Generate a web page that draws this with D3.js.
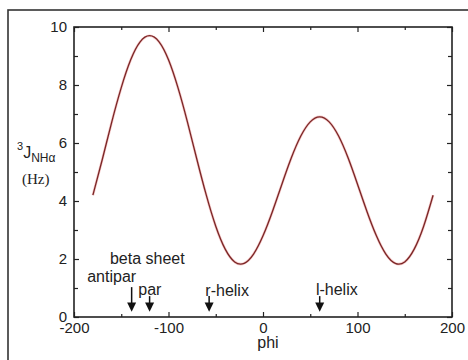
<!DOCTYPE html>
<html><head><meta charset="utf-8">
<script src="https://cdn.jsdelivr.net/npm/d3@7"></script>
<style>
html,body{margin:0;padding:0;background:#fff;}
svg{display:block;font-family:"Liberation Sans",Arial,Helvetica,sans-serif;}
</style></head>
<body><svg id="c" width="468" height="360"></svg>
<script>
// phi (degrees) and coupling constant 3J(NH-Halpha) in Hz
const phi = [-180,-170,-160,-150,-140,-130,-120,-110,-100,-90,-80,-70,-60,-50,-40,-30,-20,-10,0,10,20,30,40,50,60,70,80,90,100,110,120,130,140,150,160,170,180];
const jval = [4.20,5.44,6.73,7.91,8.87,9.49,9.70,9.49,8.87,7.91,6.73,5.44,4.20,3.13,2.34,1.90,1.85,2.17,2.80,3.64,4.58,5.49,6.24,6.73,6.90,6.73,6.24,5.49,4.58,3.64,2.80,2.17,1.85,1.90,2.34,3.13,4.20];
const xTicks = [-200,-100,0,100,200];
const xMinor = [-150,-50,50,150];
const yTicks = [0,2,4,6,8,10];
const yMinor = [1,3,5,7,9];
// arrows: phi position and top of the shaft (in Hz units)
const arrowPhi = [-139,-120,-57,60];
const arrowTop = [1.03,0.72,0.72,0.72];
const labels = [
  {text:"beta sheet", phi:-162, j:1.83},
  {text:"antipar", phi:-186, j:1.2},
  {text:"par", phi:-132, j:0.75},
  {text:"r-helix", phi:-61, j:0.72},
  {text:"l-helix", phi:56, j:0.76}
];

const svg = d3.select("#c");
const L=74, R=452, T=27, B=317;
const x = d3.scaleLinear().domain([-200,200]).range([L,R]);
const y = d3.scaleLinear().domain([0,10]).range([B,T]);

// outer frame
svg.append("rect").attr("x",8).attr("y",10).attr("width",480).attr("height",380)
  .attr("fill","none").attr("stroke","#333").attr("stroke-width",1.6);

function styleAxis(g){
  g.select(".domain").remove();
  g.selectAll("line").attr("stroke","#222").attr("stroke-width",1.2);
  g.selectAll("text").attr("fill","#222").style("font-size","15px")
   .style("font-family","'Liberation Sans',Arial,sans-serif");
}
const fmt = d => String(d);
// bottom axis
svg.append("g").attr("transform",`translate(0,${B})`)
  .call(d3.axisBottom(x).tickValues(xTicks).tickSizeInner(-5).tickSizeOuter(0).tickPadding(5).tickFormat(fmt))
  .call(styleAxis);
svg.append("g").attr("transform",`translate(0,${B})`)
  .call(d3.axisBottom(x).tickValues(xMinor).tickSizeInner(-3).tickSizeOuter(0).tickFormat(""))
  .call(styleAxis);
// top axis
svg.append("g").attr("transform",`translate(0,${T})`)
  .call(d3.axisTop(x).tickValues(xTicks).tickSizeInner(-5).tickSizeOuter(0).tickFormat(""))
  .call(styleAxis);
svg.append("g").attr("transform",`translate(0,${T})`)
  .call(d3.axisTop(x).tickValues(xMinor).tickSizeInner(-3).tickSizeOuter(0).tickFormat(""))
  .call(styleAxis);
// left axis
svg.append("g").attr("transform",`translate(${L},0)`)
  .call(d3.axisLeft(y).tickValues(yTicks).tickSizeInner(-5).tickSizeOuter(0).tickPadding(7).tickFormat(fmt))
  .call(styleAxis);
svg.append("g").attr("transform",`translate(${L},0)`)
  .call(d3.axisLeft(y).tickValues(yMinor).tickSizeInner(-4).tickSizeOuter(0).tickFormat(""))
  .call(styleAxis);
// right axis
svg.append("g").attr("transform",`translate(${R},0)`)
  .call(d3.axisRight(y).tickValues(yTicks).tickSizeInner(-5).tickSizeOuter(0).tickFormat(""))
  .call(styleAxis);
svg.append("g").attr("transform",`translate(${R},0)`)
  .call(d3.axisRight(y).tickValues(yMinor).tickSizeInner(-4).tickSizeOuter(0).tickFormat(""))
  .call(styleAxis);

// plot box
svg.append("rect").attr("x",L).attr("y",T).attr("width",R-L).attr("height",B-T)
  .attr("fill","none").attr("stroke","#222").attr("stroke-width",1.6);

// curve
const data = phi.map((p,i)=>({p, j:jval[i]}));
const line = d3.line().x(d=>x(d.p)).y(d=>y(d.j)).curve(d3.curveNatural);
svg.append("path").datum(data).attr("d", line)
  .attr("fill","none").attr("stroke","#ec9a9a").attr("stroke-width",2.6).attr("opacity",0.55);
svg.append("path").datum(data).attr("d", line)
  .attr("fill","none").attr("stroke","#7a2626").attr("stroke-width",1.3);

// arrows
arrowPhi.forEach((p,i)=>{
  const cx = x(p);
  svg.append("line").attr("x1",cx).attr("x2",cx).attr("y1",y(arrowTop[i])).attr("y2",y(0.4))
    .attr("stroke","#111").attr("stroke-width",1.5);
  svg.append("path")
    .attr("d",`M${cx-4.5},${y(0.5)} L${cx+4.5},${y(0.5)} L${cx},${y(0.18)} Z`)
    .attr("fill","#111");
});

// annotation labels
labels.forEach(l=>{
  svg.append("text").attr("x",x(l.phi)).attr("y",y(l.j))
    .attr("fill","#222").style("font-size","16px").text(l.text);
});

// axis titles
svg.append("text").attr("x",268).attr("y",348).attr("text-anchor","middle")
  .attr("fill","#222").style("font-size","16px").text("phi");
const yl = svg.append("text").attr("x",17).attr("y",158).attr("fill","#222").style("font-size","16px");
yl.append("tspan").attr("dy",-8).style("font-size","11px").text("3");
yl.append("tspan").attr("dy",8).text("J");
yl.append("tspan").attr("dy",4).style("font-size","12px").text("NHα");
svg.append("text").attr("x",22).attr("y",184).attr("fill","#222")
  .style("font-family","'Liberation Serif','Times New Roman',serif").style("font-size","15px").text("(Hz)");
</script></body></html>
